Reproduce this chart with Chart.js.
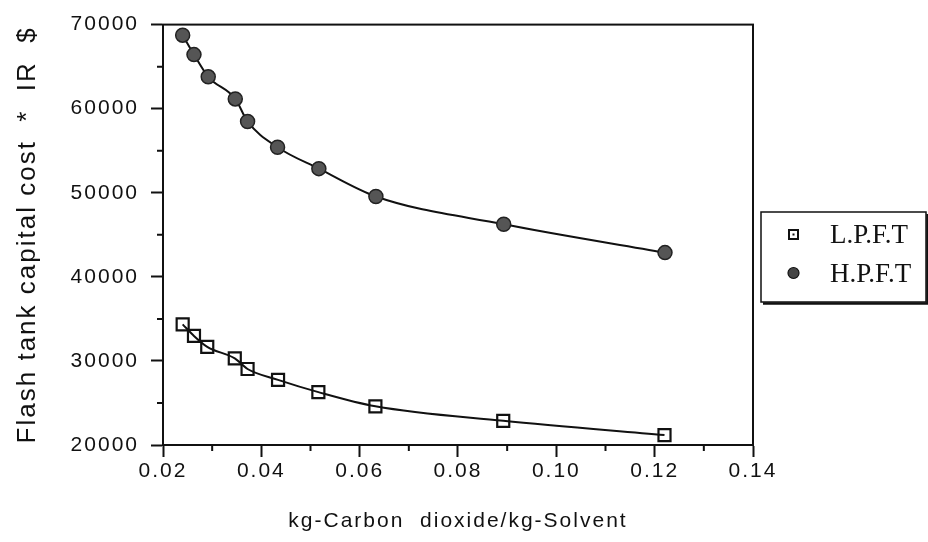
<!DOCTYPE html>
<html>
<head>
<meta charset="utf-8">
<script src="https://cdn.jsdelivr.net/npm/chart.js@4/dist/chart.umd.min.js"></script>
<style>
  html, body { margin: 0; padding: 0; background: #fff; }
  #wrap { width: 928px; height: 542px; position: relative; }
</style>
</head>
<body>
<div id="wrap"><canvas id="myChart"></canvas></div>
<script>
// values
const lpftX = [0.0240, 0.0263, 0.0290, 0.0346, 0.0372, 0.0434, 0.0516, 0.0632, 0.0892, 0.1220];
const lpftY = [34350, 32970, 31670, 30300, 29040, 27750, 26290, 24600, 22870, 21180];
const hpftX = [0.0240, 0.0263, 0.0292, 0.0347, 0.0372, 0.0433, 0.0517, 0.0633, 0.0893, 0.1221];
const hpftY = [68740, 66430, 63790, 61160, 58480, 55410, 52870, 49560, 46260, 42880];
const seriesNames = ["L.P.F.T", "H.P.F.T"];

const toPoints = (xs, ys) => xs.map((x, i) => ({ x: x, y: ys[i] }));

const sansFont = "'Liberation Sans', Arial, Helvetica, sans-serif";

// minor ticks drawn shorter, full box round the plot, legend in a framed box
const framePlugin = {
  id: "frame",
  beforeDraw(chart) {
    chart.ctx.letterSpacing = "2px";
  },
  afterDraw(chart) {
    const ctx = chart.ctx;
    const a = chart.chartArea;
    const xs = chart.scales.x, ys = chart.scales.y;
    ctx.save();
    ctx.letterSpacing = "0px";
    ctx.strokeStyle = "#111";
    ctx.lineWidth = 2;
    ctx.strokeRect(a.left, a.top, a.right - a.left, a.bottom - a.top);

    // minor ticks
    ctx.lineWidth = 2;
    ctx.beginPath();
    xs.ticks.forEach(t => {
      if (Math.round(t.value * 100) % 2 !== 0) {
        const px = xs.getPixelForValue(t.value);
        ctx.moveTo(px, a.bottom);
        ctx.lineTo(px, a.bottom + 6);
      }
    });
    ys.ticks.forEach(t => {
      if (Math.round(t.value) % 10000 !== 0) {
        const py = ys.getPixelForValue(t.value);
        ctx.moveTo(a.left, py);
        ctx.lineTo(a.left - 6, py);
      }
    });
    ctx.stroke();

    // legend box
    const bx = 761, by = 212, bw = 165, bh = 90;
    ctx.lineWidth = 1.5;
    ctx.strokeRect(bx, by, bw, bh);
    ctx.lineWidth = 2.5;
    ctx.beginPath();
    ctx.moveTo(bx + 2, by + bh + 1.5);
    ctx.lineTo(bx + bw + 1.5, by + bh + 1.5);
    ctx.lineTo(bx + bw + 1.5, by + 2);
    ctx.stroke();

    // legend markers
    ctx.lineWidth = 2;
    ctx.strokeStyle = "#111";
    ctx.fillStyle = "#fff";
    ctx.fillRect(789, 230, 9, 9);
    ctx.strokeRect(789, 230, 9, 9);
    ctx.fillStyle = "#111";
    ctx.fillRect(792.5, 233.5, 2, 2);
    ctx.beginPath();
    ctx.arc(793.5, 273, 5.5, 0, Math.PI * 2);
    ctx.fillStyle = "#444";
    ctx.fill();
    ctx.lineWidth = 1.2;
    ctx.stroke();

    ctx.fillStyle = "#111";
    ctx.font = "27px 'Liberation Serif', 'Times New Roman', serif";
    ctx.textBaseline = "middle";
    ctx.textAlign = "left";
    ctx.fillText(seriesNames[0], 830, 236);
    ctx.fillText(seriesNames[1], 830, 275);
    ctx.restore();
  }
};

document.addEventListener("DOMContentLoaded", function () {
  new Chart("myChart", {
    type: "scatter",
    data: {
      datasets: [
        {
          label: seriesNames[0],
          data: toPoints(lpftX, lpftY),
          showLine: true,
          borderColor: "#111",
          borderWidth: 2,
          cubicInterpolationMode: "monotone",
          pointStyle: "rect",
          pointRadius: 8.5,
          pointBorderWidth: 2.2,
          pointBorderColor: "#111",
          pointBackgroundColor: "rgba(255,255,255,0)"
        },
        {
          label: seriesNames[1],
          data: toPoints(hpftX, hpftY),
          showLine: true,
          borderColor: "#111",
          borderWidth: 2,
          cubicInterpolationMode: "monotone",
          pointStyle: "circle",
          pointRadius: 7,
          pointBorderWidth: 1.5,
          pointBorderColor: "#222",
          pointBackgroundColor: "#555"
        }
      ]
    },
    options: {
      responsive: true,
      maintainAspectRatio: false,
      animation: false,
      events: [],
      layout: { padding: { top: 20, right: 175, left: 0, bottom: 0 } },
      plugins: {
        legend: { display: false },
        tooltip: { enabled: false }
      },
      scales: {
        x: {
          type: "linear",
          min: 0.02,
          max: 0.14,
          afterFit(scale) { scale.height = 97; },
          border: { display: true, color: "#111", width: 2 },
          grid: {
            drawOnChartArea: false,
            tickLength: 12,
            tickWidth: 2,
            tickColor: ctx => (Math.round(ctx.tick.value * 100) % 2 === 0 ? "#111" : "rgba(0,0,0,0)")
          },
          ticks: {
            stepSize: 0.01,
            padding: 2,
            color: "#111",
            font: { family: sansFont, size: 21 },
            maxRotation: 0,
            autoSkip: false,
            callback: v => (Math.round(v * 100) % 2 === 0 ? v.toFixed(2) : "")
          },
          title: {
            display: true,
            text: "kg-Carbon  dioxide/kg-Solvent",
            color: "#111",
            font: { family: sansFont, size: 21 },
            padding: { top: 8, bottom: 8 }
          }
        },
        y: {
          type: "linear",
          min: 20000,
          max: 70000,
          afterFit(scale) { scale.width = 163; },
          border: { display: true, color: "#111", width: 2 },
          grid: {
            drawOnChartArea: false,
            tickLength: 12,
            tickWidth: 2,
            tickColor: ctx => (Math.round(ctx.tick.value) % 10000 === 0 ? "#111" : "rgba(0,0,0,0)")
          },
          ticks: {
            stepSize: 5000,
            padding: 12,
            color: "#111",
            font: { family: sansFont, size: 21 },
            autoSkip: false,
            callback: v => (Math.round(v) % 10000 === 0 ? String(v) : "")
          },
          title: {
            display: true,
            text: "Flash tank capital cost  *  IR  $",
            color: "#111",
            font: { family: sansFont, size: 26 },
            padding: { top: 12, bottom: 0 }
          }
        }
      }
    },
    plugins: [framePlugin]
  });
});
</script>
</body>
</html>
